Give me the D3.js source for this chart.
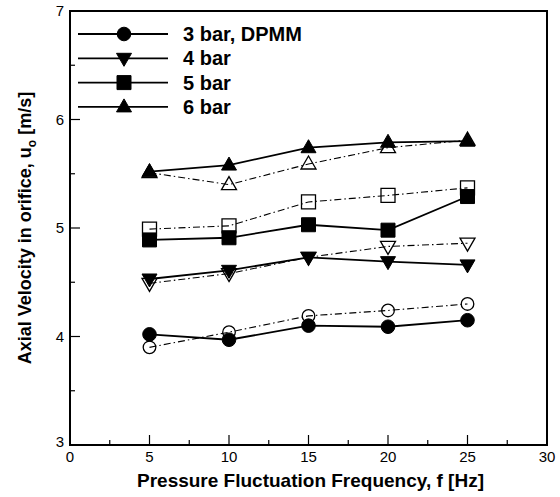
<!DOCTYPE html>
<html><head><meta charset="utf-8">
<script src="https://cdn.jsdelivr.net/npm/d3@7"></script>
<style>
html,body{margin:0;padding:0;background:#fff;}
svg text{font-family:"Liberation Sans",Arial,sans-serif;fill:#000;}
</style></head>
<body>
<svg id="chart" width="560" height="497"></svg>
<script>
// ---- data ----
const freq = [5, 10, 15, 20, 25];
const seriesNames = ["3 bar, DPMM", "4 bar", "5 bar", "6 bar"];
const symbols = ["circle", "triangleDown", "square", "triangleUp"];
const filled3 = [4.02, 3.97, 4.10, 4.09, 4.15];
const filled4 = [4.53, 4.61, 4.73, 4.69, 4.66];
const filled5 = [4.89, 4.91, 5.03, 4.98, 5.29];
const filled6 = [5.52, 5.58, 5.74, 5.79, 5.80];
const open3 = [3.90, 4.04, 4.19, 4.24, 4.30];
const open4 = [4.49, 4.58, 4.73, 4.83, 4.86];
const open5 = [4.99, 5.02, 5.24, 5.30, 5.37];
const open6 = [5.51, 5.40, 5.59, 5.74, 5.81];
const xTicks = [0, 5, 10, 15, 20, 25, 30];
const yTicks = [3, 4, 5, 6, 7];
const xTitle = "Pressure Fluctuation Frequency, f [Hz]";

const filledSets = [filled3, filled4, filled5, filled6];
const openSets = [open3, open4, open5, open6];

// ---- layout ----
const svg = d3.select("#chart");
const L = 70, R = 547, T = 11, B = 445;
const x = d3.scaleLinear().domain([0, 30]).range([L, R]);
const y = d3.scaleLinear().domain([3, 7]).range([B, T]);

function markerPath(kind, cx, cy) {
  const s = 7;
  if (kind === "square") return `M${cx-s},${cy-s}h${2*s}v${2*s}h${-2*s}Z`;
  if (kind === "triangleUp") return `M${cx},${cy-s-1}L${cx+s+0.5},${cy+s-2}L${cx-s-0.5},${cy+s-2}Z`;
  if (kind === "triangleDown") return `M${cx},${cy+s+1}L${cx+s+0.5},${cy-s+2}L${cx-s-0.5},${cy-s+2}Z`;
  return null;
}
function drawMarker(g, kind, cx, cy, filled) {
  if (kind === "circle") {
    g.append("circle").attr("cx", cx).attr("cy", cy).attr("r", filled ? 6.8 : 6.3)
      .attr("fill", filled ? "#000" : "none").attr("stroke", "#000").attr("stroke-width", filled ? 1 : 1.3);
  } else {
    g.append("path").attr("d", markerPath(kind, cx, cy))
      .attr("fill", filled ? "#000" : "none").attr("stroke", "#000").attr("stroke-width", filled ? 1 : 1.3);
  }
}

const line = d3.line().x((d, i) => x(freq[i])).y(d => y(d));

// ticks (inward, left & bottom)
const gt = svg.append("g").attr("stroke", "#000").attr("stroke-width", 1.2);
d3.range(3, 7.01, 0.5).forEach(v => {
  const major = Math.abs(v - Math.round(v)) < 1e-6;
  gt.append("line").attr("x1", L).attr("x2", L + (major ? 10 : 5)).attr("y1", y(v)).attr("y2", y(v));
});
d3.range(0, 30.01, 2.5).forEach(v => {
  const major = Math.abs(v / 5 - Math.round(v / 5)) < 1e-6;
  gt.append("line").attr("x1", x(v)).attr("x2", x(v)).attr("y1", B).attr("y2", B - (major ? 10 : 5));
});

// open series
openSets.forEach((vals, k) => {
  const g = svg.append("g");
  g.append("path").attr("d", line(vals)).attr("fill", "none").attr("stroke", "#000")
    .attr("stroke-width", 1.1).attr("stroke-dasharray", "7,3,1.5,3");
  vals.forEach((v, i) => drawMarker(g, symbols[k], x(freq[i]), y(v), false));
});
// filled series
filledSets.forEach((vals, k) => {
  const g = svg.append("g");
  g.append("path").attr("d", line(vals)).attr("fill", "none").attr("stroke", "#000").attr("stroke-width", 1.8);
  vals.forEach((v, i) => drawMarker(g, symbols[k], x(freq[i]), y(v), true));
});

// frame
svg.append("rect").attr("x", L).attr("y", T).attr("width", R - L).attr("height", B - T)
  .attr("fill", "none").attr("stroke", "#000").attr("stroke-width", 2);

// tick labels
svg.append("g").selectAll("text").data(xTicks).join("text")
  .attr("x", d => x(d)).attr("y", B + 17).attr("text-anchor", "middle")
  .attr("font-size", 15).text(d => d);
svg.append("g").selectAll("text").data(yTicks).join("text")
  .attr("x", L - 6).attr("y", d => y(d) + (d === 3 ? 2 : 5)).attr("text-anchor", "end")
  .attr("font-size", 15).text(d => d);

// axis titles
svg.append("text").attr("x", (L + R) / 2 + 2).attr("y", 487).attr("text-anchor", "middle")
  .attr("font-size", 19).attr("font-weight", "bold").text(xTitle);
const yt = svg.append("text").attr("transform", `translate(31,${(T + B) / 2}) rotate(-90)`)
  .attr("text-anchor", "middle").attr("font-size", 18).attr("font-weight", "bold");
yt.append("tspan").text("Axial Velocity in orifice, u");
yt.append("tspan").attr("font-size", 12).attr("dy", 5).text("o");
yt.append("tspan").attr("dy", -5).text(" [m/s]");

// legend
const leg = svg.append("g");
seriesNames.forEach((name, k) => {
  const ly = 34 + k * 24.3;
  leg.append("line").attr("x1", 78).attr("x2", 168).attr("y1", ly).attr("y2", ly)
    .attr("stroke", "#000").attr("stroke-width", 1.8);
  drawMarker(leg, symbols[k], 124, ly, true);
  leg.append("text").attr("x", 183).attr("y", ly + 7).attr("font-size", 20)
    .attr("font-weight", "bold").text(name);
});
</script>
</body></html>
